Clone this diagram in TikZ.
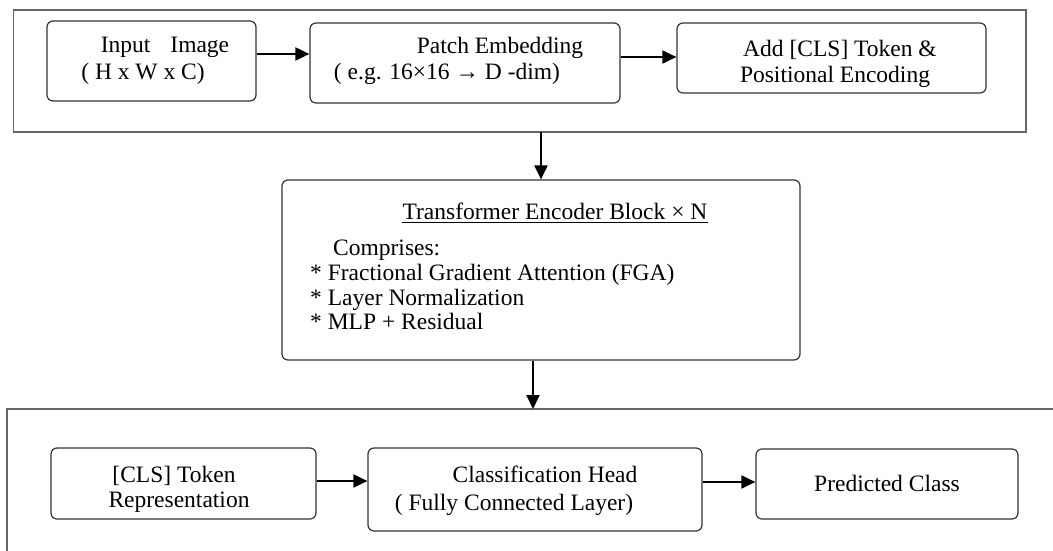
\documentclass[tikz,border=0pt]{standalone}
\usepackage{fontspec}
\setmainfont{Liberation Serif}
\usetikzlibrary{arrows.meta}
\tikzset{
  box/.style={draw=black!80, line width=1.2pt, rounded corners=6pt, inner sep=0pt},
  frame/.style={draw=black!60, line width=1.6pt, inner sep=0pt},
  lbl/.style={anchor=base, inner sep=0pt, font=\fontsize{23.5pt}{25pt}\selectfont},
  lbll/.style={anchor=base west, inner sep=0pt, font=\fontsize{23.5pt}{25pt}\selectfont},
  arr/.style={line width=2pt, -{Triangle[length=14pt,width=13pt]}}
}
\begin{document}
\begin{tikzpicture}[x=1pt,y=-1pt]
\useasboundingbox (0,0) rectangle (1053,551);
% top frame
\draw[frame] (13.5,10) rectangle (1026,132);
\coordinate (topbot) at (541,132);
% top row boxes
\node[box, minimum width=209pt, minimum height=80pt] (inp) at (151.5,61) {};
\node[box, minimum width=310pt, minimum height=80pt] (patch) at (465,63) {};
\node[box, minimum width=309pt, minimum height=70pt] (add) at (831.5,58) {};
\node[lbl] (t1) at (165,53) {Input\hspace{20pt}Image};
\node[lbl] (t2) at (143,80) {( H x W x C)};
\node[lbl] (t3) at (500,54) {Patch Embedding};
\node[lbl] (t4) at (447,80) {( e.g. 16×16 → D -dim)};
\node[lbl] (t5) at (840,57) {Add [CLS] Token \&};
\node[lbl] (t6) at (835,83) {Positional Encoding};
\coordinate (r1) at (0,54);
\coordinate (r2) at (0,57);
\draw[arr] (inp.east |- r1) -- (patch.west |- r1);
\draw[arr] (patch.east |- r2) -- (add.west |- r2);
% transformer
\node[box, minimum width=518pt, minimum height=180pt] (tr) at (541,270) {};
\node[lbl] (title) at (555,219) {Transformer Encoder Block × N};
\draw[line width=1.3pt] ([yshift=-3.5pt]title.base west) -- ([yshift=-3.5pt]title.base east);
\node[lbll] (c0) at (333,255) {Comprises:};
\node[lbll] (c1) at (310,280) {* Fractional Gradient Attention (FGA)};
\node[lbll] (c2) at (310,305) {* Layer Normalization};
\node[lbll] (c3) at (310,329) {* MLP + Residual};
\draw[arr] (topbot) -- (tr.north);
% bottom frame
\coordinate (bf) at (533,409);
\draw[frame] (1053,409) -- (7,409) -- (7,552);
\draw[arr] ([xshift=-8pt]tr.south) -- (bf);
% bottom boxes
\node[box, minimum width=265pt, minimum height=71pt] (cls) at (183.5,483.5) {};
\node[box, minimum width=334pt, minimum height=83pt] (head) at (535,489.5) {};
\node[box, minimum width=262pt, minimum height=70pt] (pred) at (887,484) {};
\node[lbl] (b1) at (174,482) {[CLS] Token};
\node[lbl] (b2) at (179,507) {Representation};
\node[lbl] (b3) at (545,482) {Classification Head};
\node[lbl] (b4) at (514,510) {( Fully Connected Layer)};
\node[lbl] (b5) at (887,491) {Predicted Class};
\coordinate (r3) at (0,481);
\coordinate (r4) at (0,482);
\draw[arr] (cls.east |- r3) -- (head.west |- r3);
\draw[arr] (head.east |- r4) -- (pred.west |- r4);
\end{tikzpicture}
\end{document}
